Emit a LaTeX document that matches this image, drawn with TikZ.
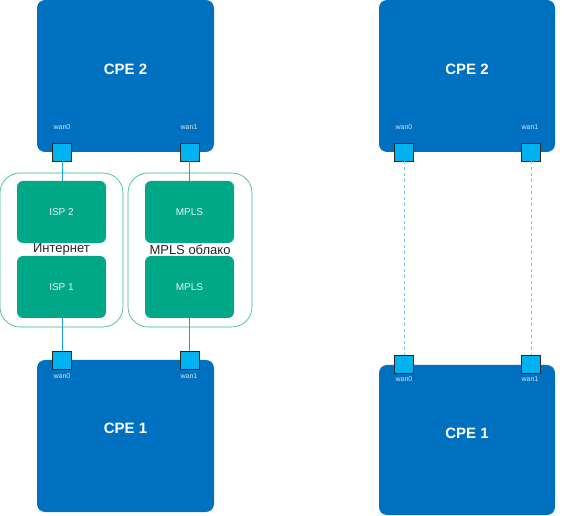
\documentclass[tikz,border=0pt]{standalone}
\usepackage{fontspec}
\setmainfont{Liberation Sans}
\usetikzlibrary{positioning}

\definecolor{cpeblue}{HTML}{0070C0}
\definecolor{portblue}{HTML}{00B2F0}
\definecolor{ispgreen}{HTML}{00A887}
\definecolor{cloudline}{HTML}{2DB39D}
\definecolor{linkblue}{HTML}{1AA3D8}
\definecolor{dashblue}{HTML}{4FCDF5}

\begin{document}
\begin{tikzpicture}[
  x=1pt,y=-1pt,
  cpe/.style  ={rectangle,fill=cpeblue,rounded corners=8pt,
                minimum width=177pt,minimum height=152pt,inner sep=0pt},
  cpetext/.style={text=white,font=\fontsize{15}{17}\selectfont\bfseries},
  port/.style ={draw=black!85,fill=portblue,line width=0.6pt,
                minimum width=19pt,minimum height=18pt,inner sep=0pt},
  wan/.style  ={text=white!85!cpeblue,font=\fontsize{7}{8}\selectfont},
  cloud/.style={draw=cloudline,fill=white,rounded corners=20pt,line width=0.6pt,
                minimum width=123pt,minimum height=154pt,inner sep=0pt},
  isp/.style  ={fill=ispgreen,rounded corners=6pt,text=white!90!ispgreen,
                minimum width=89pt,minimum height=62pt,inner sep=0pt,
                font=\fontsize{10}{12}\selectfont},
  cloudtext/.style={font=\fontsize{13}{15}\selectfont,text=black!85},
  link/.style ={draw=linkblue,line width=0.8pt},
  dlink/.style={draw=dashblue,line width=1pt,dash pattern=on 3pt off 3pt},
]
\useasboundingbox (0,0) rectangle (566,516);

%% =====================================================
%%  Left: CPE 2 (top)
%% =====================================================
\node[cpe] (cpe2a) at (125.5,76) {};
\node[cpetext] (cpe2atxt) at (125.5,69) {CPE 2};
\node[wan] (w0a) at (62,127) {wan0};
\node[wan] (w1a) at (189,127) {wan1};
\node[port] (p0a) at (62,152) {};
\node[port] (p1a) at (189.5,152) {};

%% =====================================================
%%  Left: clouds
%% =====================================================
\node[cloud] (inet) at (61.5,250) {};
\node[cloud,minimum width=124pt] (mplscl) at (190,250) {};
\node[isp] (isp2) at (61.5,212) {ISP 2};
\node[isp] (isp1) at (61.5,287) {ISP 1};
\node[isp] (mpls2) at (189.5,212) {MPLS};
\node[isp] (mpls1) at (189.5,287) {MPLS};
\node[cloudtext] (inettxt) at (61.5,249.5) {Интернет};
\node[cloudtext] (mplstxt) at (190,249.5) {MPLS облако};

%% =====================================================
%%  Left: CPE 1 (bottom)
%% =====================================================
\node[cpe] (cpe1a) at (125.5,436) {};
\node[cpetext] (cpe1atxt) at (125.5,428) {CPE 1};
\node[port] (p0b) at (62,360) {};
\node[port] (p1b) at (189.5,360) {};
\node[wan] (w0b) at (62,376) {wan0};
\node[wan] (w1b) at (189,376) {wan1};

\draw[link] (p0a.south) -- (isp2.north-|p0a.south);
\draw[link] (p1a.south) -- (mpls2.north-|p1a.south);
\draw[link] (isp1.south-|p0b.north) -- (p0b.north);
\draw[link] (mpls1.south-|p1b.north) -- (p1b.north);

%% =====================================================
%%  Right: CPE 2 / CPE 1 with dashed links
%% =====================================================
\node[cpe,minimum width=176pt] (cpe2b) at (467,76) {};
\node[cpetext] (cpe2btxt) at (467,69) {CPE 2};
\node[wan] (w0c) at (404,127) {wan0};
\node[wan] (w1c) at (530,127) {wan1};
\node[port] (p0c) at (404,152) {};
\node[port] (p1c) at (531,152) {};

\node[cpe,minimum width=176pt,minimum height=150pt] (cpe1b) at (467,440) {};
\node[cpetext] (cpe1btxt) at (467,433) {CPE 1};
\node[port] (p0d) at (404,364) {};
\node[port] (p1d) at (531,364) {};
\node[wan] (w0d) at (404,379.5) {wan0};
\node[wan] (w1d) at (530,379.5) {wan1};

\draw[dlink] (p0c.south) -- (p0d.north);
\draw[dlink] (p1c.south) -- (p1d.north);

\end{tikzpicture}
\end{document}
